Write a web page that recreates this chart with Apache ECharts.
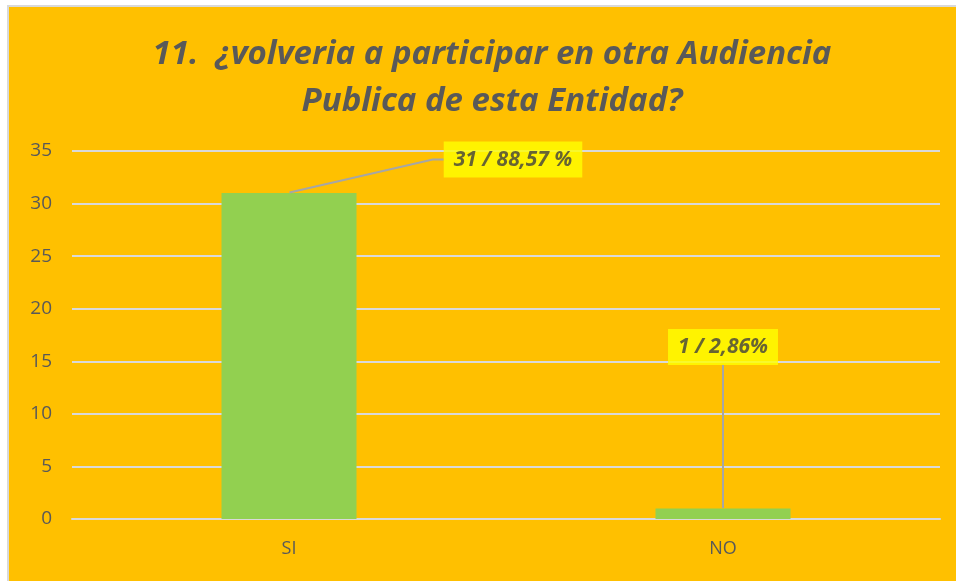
<!DOCTYPE html>
<html>
<head>
<meta charset="utf-8">
<script src="https://cdn.jsdelivr.net/npm/echarts@6/dist/echarts.min.js"></script>
<style>
html,body{margin:0;padding:0;background:#ffffff;width:956px;height:581px;overflow:hidden;}
#frame{position:absolute;left:7px;top:5px;width:949px;height:576px;background:#D9D9D9;}
#chart{position:absolute;left:9px;top:7px;width:947px;height:574px;}
</style>
</head>
<body>
<div id="frame"></div>
<div id="chart"></div>
<script>
const titleText = "11.  ¿volveria a participar en otra Audiencia\nPublica de esta Entidad?";
const categories = ["SI", "NO"];
const values = [31, 1];
const labelTexts = ["31 / 88,57 %", "1 / 2,86%"];
const yTicks = { min: 0, max: 35, interval: 5 };

const chart = echarts.init(document.getElementById('chart'), null, { renderer: 'canvas' });
const labelShift = [[224, -10], [0, -138]];
chart.setOption({
  backgroundColor: '#FFC000',
  animation: false,
  title: {
    text: titleText,
    left: 478,
    top: 19,
    textAlign: 'center',
    textStyle: {
      fontFamily: 'Open Sans',
      fontStyle: 'italic',
      fontWeight: 'bold',
      fontSize: 33,
      lineHeight: 47,
      color: '#595959'
    }
  },
  grid: { left: 63, right: 16, top: 144, bottom: 62 },
  xAxis: {
    type: 'category',
    data: categories,
    axisLine: { show: true, lineStyle: { color: '#D9D9D9', width: 2 } },
    axisTick: { show: false },
    axisLabel: { color: '#595959', fontSize: 18, fontFamily: 'Open Sans', margin: 21 }
  },
  yAxis: {
    type: 'value',
    min: yTicks.min, max: yTicks.max, interval: yTicks.interval,
    axisLine: { show: false },
    axisTick: { show: false },
    axisLabel: { color: '#595959', fontSize: 19, fontFamily: 'Open Sans', margin: 20 },
    splitLine: { lineStyle: { color: '#D9D9D9', width: 2 } }
  },
  series: [{
    type: 'bar',
    data: values,
    barWidth: 135,
    itemStyle: { color: '#92D050' },
    z: 2
  }, {
    type: 'scatter',
    data: values,
    symbol: 'rect',
    symbolSize: 1,
    itemStyle: { color: 'rgba(0,0,0,0)' },
    silent: true,
    z: 3,
    label: {
      show: true,
      position: 'top',
      distance: 5,
      formatter: p => labelTexts[p.dataIndex],
      backgroundColor: '#FFFF00',
      padding: [8, 10, 7, 10],
      color: '#404040',
      fontFamily: 'Open Sans',
      fontStyle: 'italic',
      fontWeight: 'bold',
      fontSize: 21
    },
    labelLine: { show: true, length2: 11, lineStyle: { color: '#A6A6A6', width: 2 } },
    labelLayout: p => ({ dx: labelShift[p.dataIndex][0], dy: labelShift[p.dataIndex][1] })
  }]
});
</script>
</body>
</html>
